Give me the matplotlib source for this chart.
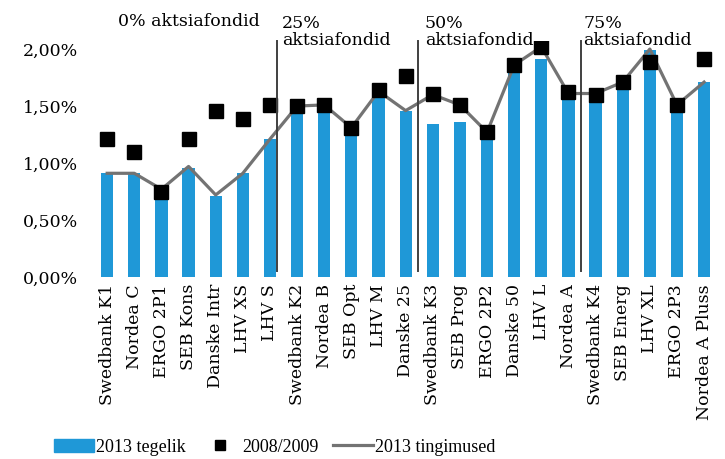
import numpy as np
import matplotlib.pyplot as plt
from matplotlib.lines import Line2D
from matplotlib.patches import Patch

fondid = ['Swedbank K1', 'Nordea C', 'ERGO 2P1', 'SEB Kons', 'Danske Intr', 'LHV XS', 'LHV S',
          'Swedbank K2', 'Nordea B', 'SEB Opt', 'LHV M', 'Danske 25',
          'Swedbank K3', 'SEB Prog', 'ERGO 2P2', 'Danske 50', 'LHV L', 'Nordea A',
          'Swedbank K4', 'SEB Energ', 'LHV XL', 'ERGO 2P3', 'Nordea A Pluss']

tegelik_2013 = [0.91, 0.91, 0.70, 0.96, 0.71, 0.91, 1.21,
                1.45, 1.45, 1.26, 1.58, 1.46,
                1.34, 1.36, 1.21, 1.79, 1.91, 1.57,
                1.56, 1.66, 1.99, 1.45, 1.71]

v2008_2009 = [1.21, 1.10, 0.75, 1.21, 1.46, 1.39, 1.51,
              1.50, 1.51, 1.31, 1.64, 1.76,
              1.61, 1.51, 1.27, 1.86, 2.02, 1.62,
              1.60, 1.71, 1.89, 1.51, 1.91]

tingimused_2013 = [0.91, 0.91, 0.77, 0.97, 0.72, 0.91, 1.21,
                   1.50, 1.51, 1.31, 1.63, 1.46,
                   1.60, 1.51, 1.27, 1.86, 2.02, 1.61,
                   1.61, 1.71, 2.00, 1.51, 1.71]

grupid = ['0% aktsiafondid', '25%\naktsiafondid', '50%\naktsiafondid', '75%\naktsiafondid']
piirid = [6.27, 11.44, 17.45]

yticks = [0, 0.5, 1.0, 1.5, 2.0]
ytick_labels = ['0,00%', '0,50%', '1,00%', '1,50%', '2,00%']

plt.rcParams['font.family'] = ['DejaVu Serif']
plt.rcParams['font.size'] = 12.5

blue = '#1f98d7'
gray = '#737373'

fig = plt.figure(figsize=(7.25, 4.59), dpi=100)
ax = fig.add_axes([0.131, 0.3965, 0.857, 0.514])

x = np.arange(len(fondid))
ax.bar(x, tegelik_2013, width=0.45, color=blue, zorder=2)
ax.plot(x, tingimused_2013, color=gray, lw=2.3, zorder=3)
ax.plot(x, v2008_2009, 's', color='black', ms=9.5, zorder=4)

# grupi eraldajad
for p in piirid:
    ax.plot([p, p], [0.05, 2.07], color='#404040', lw=1.4, zorder=5, clip_on=False)

ax.text(3.0, 2.24, grupid[0], ha='center', va='center')
ax.text(6.45, 2.15, grupid[1], ha='left', va='center', linespacing=1.05)
ax.text(11.7, 2.15, grupid[2], ha='left', va='center', linespacing=1.05)
ax.text(17.55, 2.15, grupid[3], ha='left', va='center', linespacing=1.05)

ax.set_xlim(-0.45, 22.45)
ax.set_ylim(0, 2.07)
ax.set_yticks(yticks)
ax.set_yticklabels(ytick_labels)
ax.set_xticks(x)
ax.set_xticklabels(fondid, rotation=90)
ax.tick_params(length=0, pad=5)
ax.tick_params(axis='y', pad=12)
for s in ax.spines.values():
    s.set_visible(False)

handles = [Patch(color=blue), Line2D([], [], ls='', marker='s', color='black', ms=7),
           Line2D([], [], color=gray, lw=2.3)]
fig.legend(handles, ['2013 tegelik', '2008/2009', '2013 tingimused'], ncol=3,
           loc='center', bbox_to_anchor=(0.379, 0.026), frameon=False,
           prop={'family': 'Liberation Serif', 'size': 13},
           handlelength=2.2, columnspacing=0.8, handletextpad=0.12)

fig.savefig('out.png', dpi=100)
